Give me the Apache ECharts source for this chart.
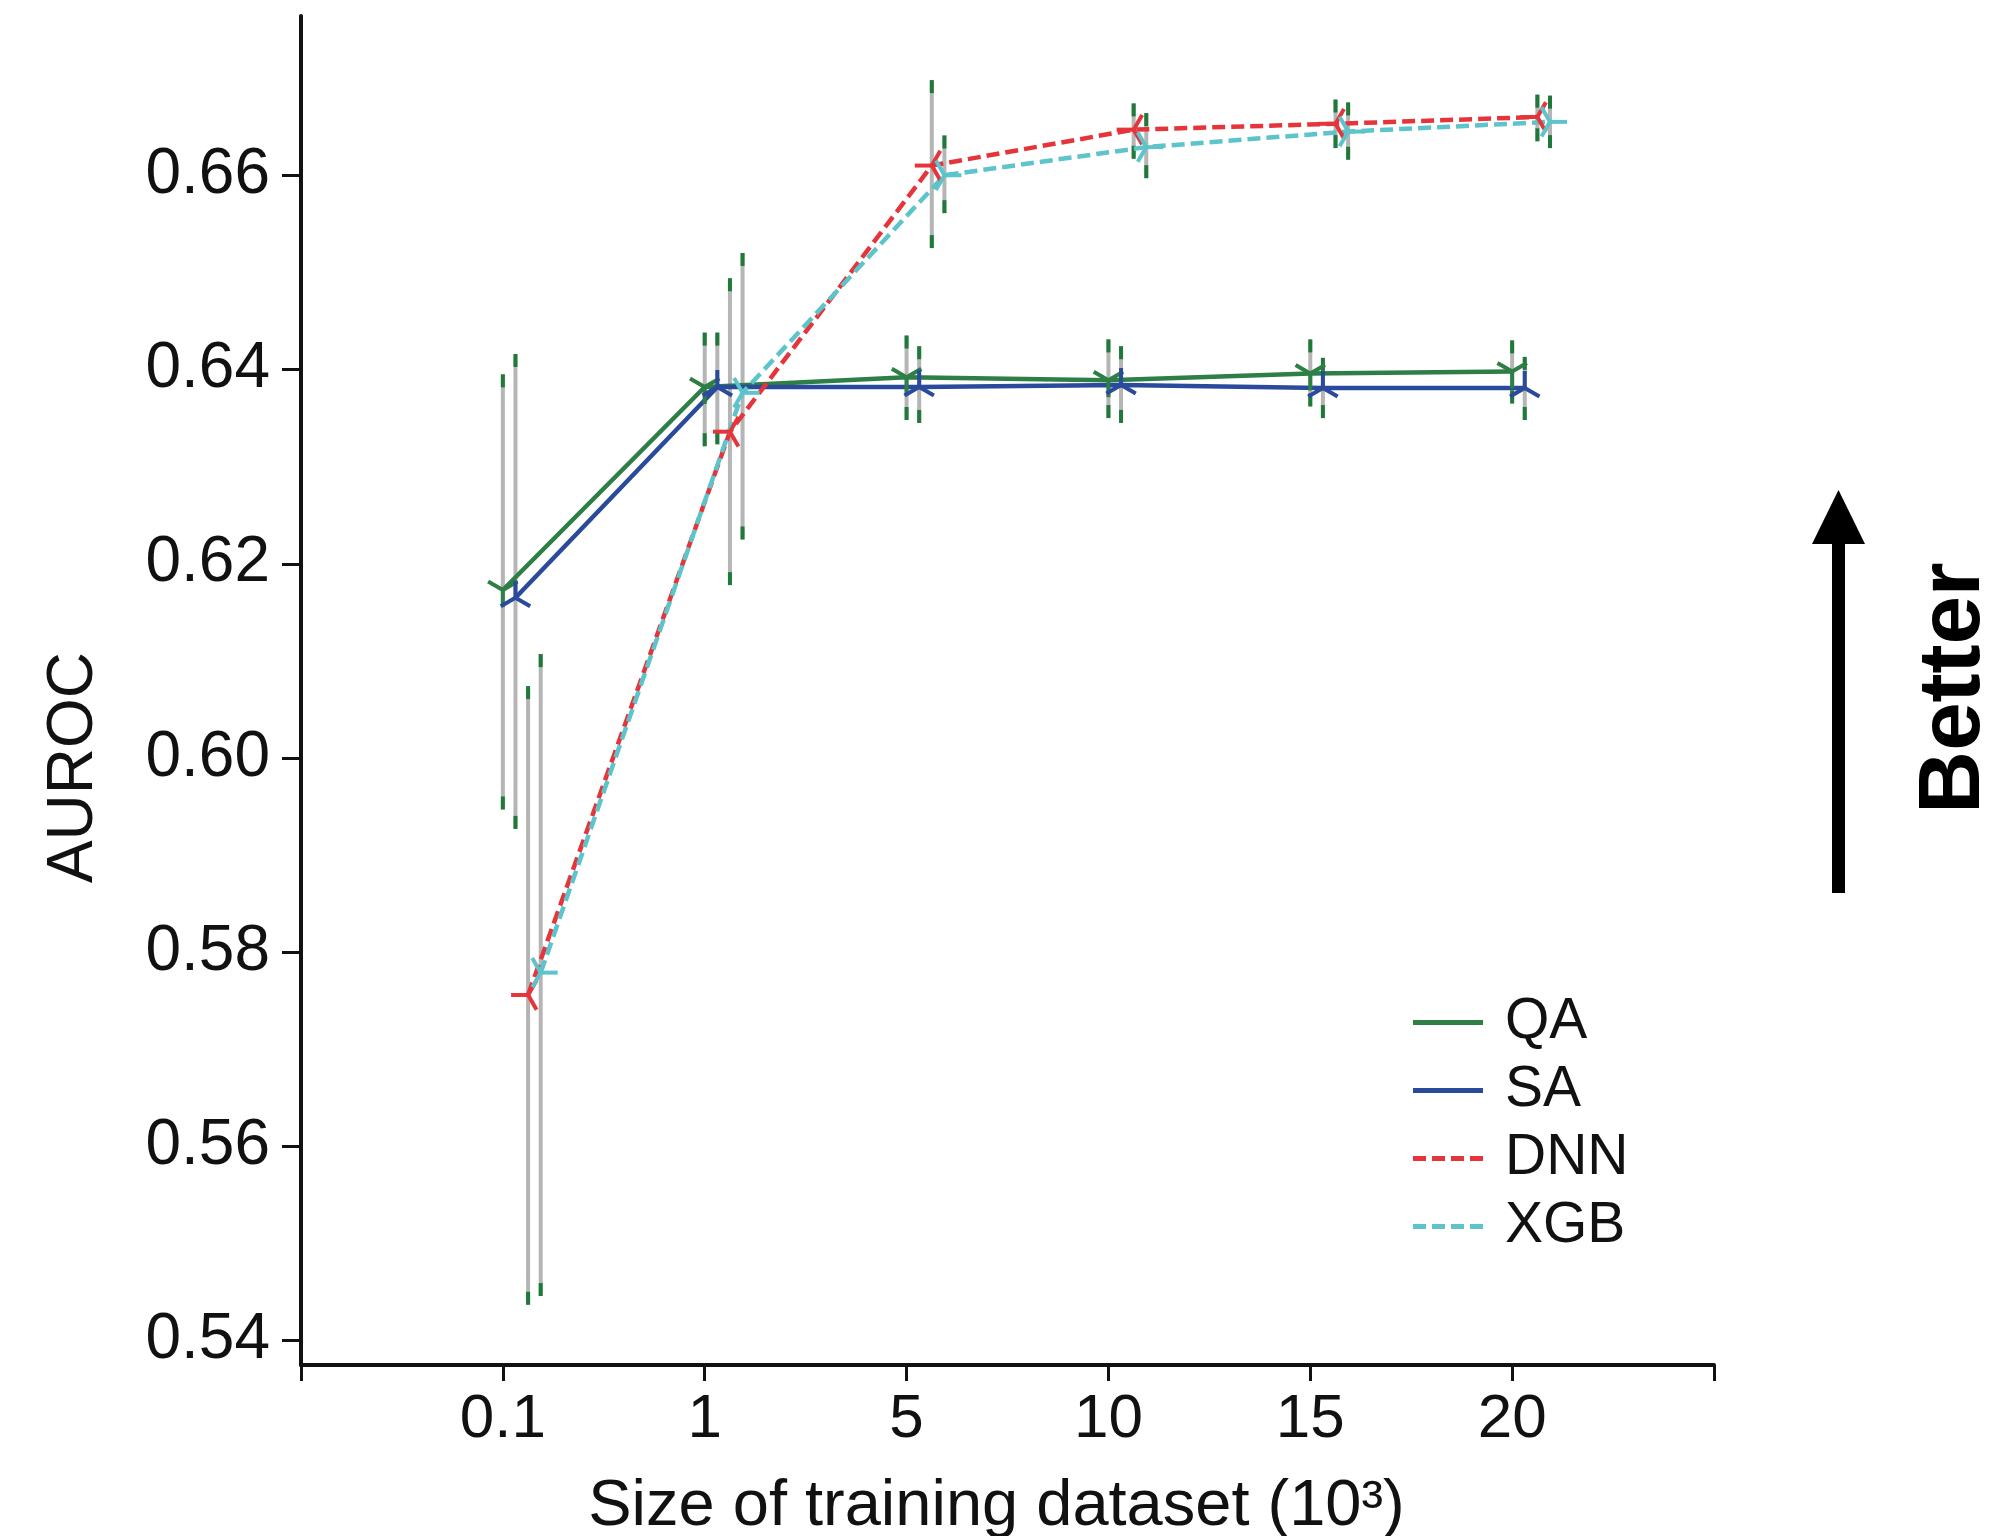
<!DOCTYPE html>
<html>
<head>
<meta charset="utf-8">
<script src="https://cdn.jsdelivr.net/npm/echarts@6/dist/echarts.min.js"></script>
<style>
  html, body { margin: 0; padding: 0; background: #ffffff; }
  #chart { width: 1999px; height: 1536px; }
</style>
</head>
<body>
<div id="chart"></div>
<script>
// ---- Data ----
const categories = ['0.1', '1', '5', '10', '15', '20'];
const yTicks = [0.54, 0.56, 0.58, 0.60, 0.62, 0.64, 0.66];

const seriesNames = ['QA', 'SA', 'DNN', 'XGB'];

const QA      = [0.6173, 0.6382, 0.6392, 0.6389, 0.6396, 0.6398];
const QA_low  = [0.5947, 0.6321, 0.6348, 0.6350, 0.6362, 0.6365];
const QA_high = [0.6395, 0.6438, 0.6435, 0.6431, 0.6431, 0.6430];

const SA      = [0.6165, 0.6382, 0.6382, 0.6384, 0.6381, 0.6381];
const SA_low  = [0.5927, 0.6323, 0.6345, 0.6345, 0.6350, 0.6348];
const SA_high = [0.6416, 0.6438, 0.6424, 0.6424, 0.6412, 0.6413];

const DNN      = [0.5756, 0.6336, 0.6610, 0.6647, 0.6653, 0.6660];
const DNN_low  = [0.5437, 0.6178, 0.6525, 0.6617, 0.6628, 0.6635];
const DNN_high = [0.6074, 0.6494, 0.6698, 0.6674, 0.6678, 0.6683];

const XGB      = [0.5779, 0.6376, 0.6600, 0.6629, 0.6645, 0.6655];
const XGB_low  = [0.5446, 0.6225, 0.6561, 0.6597, 0.6616, 0.6628];
const XGB_high = [0.6107, 0.6520, 0.6641, 0.6664, 0.6675, 0.6682];

// ---- Styling / layout ----
const FONT = "'Liberation Sans', Arial, Helvetica, sans-serif";
const SOLID_ICON = 'path://M0,0h70v5h-70z';
const DASH_ICON = 'path://M0,0h13v5h-13z M19,0h13v5h-13z M38,0h13v5h-13z M57,0h13v5h-13z';
const styles = {
  QA:  { color: '#2e7f45', dash: 'solid',  icon: SOLID_ICON, offset: 0,      arms: [270, 30, 150] },  // tri_down
  SA:  { color: '#2a4b9b', dash: 'solid',  icon: SOLID_ICON, offset: 0.0625, arms: [90, 210, 330] },  // tri_up
  DNN: { color: '#e5353a', dash: [13, 6],  icon: DASH_ICON,  offset: 0.125,  arms: [180, 60, 300] },  // tri_left
  XGB: { color: '#5cc4ca', dash: [13, 6],  icon: DASH_ICON,  offset: 0.1875, arms: [0, 120, 240] }    // tri_right
};
const values = { QA, SA, DNN, XGB };
const lows = { QA: QA_low, SA: SA_low, DNN: DNN_low, XGB: XGB_low };
const highs = { QA: QA_high, SA: SA_high, DNN: DNN_high, XGB: XGB_high };

const BAR_GREY = '#b5b5b5';
const CAP_GREEN = '#1f7a3a';

const series = [];
seriesNames.forEach(name => {
  const st = styles[name];
  const xs = categories.map((c, i) => i + 1 + st.offset);
  // error bars
  series.push({
    name: name + ' range',
    type: 'custom',
    z: 1,
    silent: true,
    encode: { x: 0, y: [1, 2] },
    data: xs.map((x, i) => [x, lows[name][i], highs[name][i]]),
    renderItem: (params, api) => {
      const x = api.value(0);
      const pLo = api.coord([x, api.value(1)]);
      const pHi = api.coord([x, api.value(2)]);
      const cap = 13;
      return {
        type: 'group',
        children: [
          { type: 'line', shape: { x1: pLo[0], y1: pLo[1], x2: pHi[0], y2: pHi[1] },
            style: { stroke: BAR_GREY, lineWidth: 4 } },
          { type: 'line', shape: { x1: pHi[0], y1: pHi[1], x2: pHi[0], y2: pHi[1] + cap },
            style: { stroke: CAP_GREEN, lineWidth: 4 } },
          { type: 'line', shape: { x1: pLo[0], y1: pLo[1] - cap, x2: pLo[0], y2: pLo[1] },
            style: { stroke: CAP_GREEN, lineWidth: 4 } }
        ]
      };
    }
  });
  // line
  series.push({
    name: name,
    type: 'line',
    z: 2,
    symbol: 'none',
    itemStyle: { color: st.color },
    lineStyle: { color: st.color, width: 4.5, type: st.dash },
    data: xs.map((x, i) => [x, values[name][i]])
  });
  // tri markers
  series.push({
    name: name + ' marker',
    type: 'custom',
    z: 3,
    silent: true,
    encode: { x: 0, y: 1 },
    data: xs.map((x, i) => [x, values[name][i]]),
    renderItem: (params, api) => {
      const p = api.coord([api.value(0), api.value(1)]);
      const r = 17;
      return {
        type: 'group',
        children: st.arms.map(a => {
          const rad = a * Math.PI / 180;
          return {
            type: 'line',
            shape: { x1: p[0], y1: p[1], x2: p[0] + r * Math.cos(rad), y2: p[1] - r * Math.sin(rad) },
            style: { stroke: st.color, lineWidth: 4 }
          };
        })
      };
    }
  });
});

const chart = echarts.init(document.getElementById('chart'), null, { renderer: 'canvas' });
chart.setOption({
  animation: false,
  backgroundColor: '#ffffff',
  textStyle: { fontFamily: FONT },
  grid: { left: 301, right: 285, top: 16, bottom: 171, containLabel: false, outerBoundsMode: 'none' },
  legend: {
    data: seriesNames.map(n => ({ name: n, icon: styles[n].icon })),
    orient: 'vertical',
    left: 1408,
    top: 989,
    itemWidth: 70,
    itemHeight: 5,
    itemGap: 11,
    selectedMode: false,
    textStyle: { fontFamily: FONT, fontSize: 57, color: '#111', lineHeight: 53, padding: [0, 0, 0, 17] }
  },
  xAxis: {
    type: 'value',
    min: 0,
    max: 7,
    interval: 1,
    name: 'Size of training dataset (10³)',
    nameLocation: 'middle',
    nameGap: 110,
    nameTextStyle: { fontFamily: FONT, fontSize: 65, color: '#111', padding: [0, 22, 0, 0] },
    axisLine: { show: true, onZero: false, lineStyle: { color: '#111', width: 4 } },
    axisTick: { show: true, length: 16, lineStyle: { color: '#111', width: 3 } },
    axisLabel: {
      fontFamily: FONT, fontSize: 62, color: '#111', margin: 24,
      formatter: v => categories[Math.round(v) - 1] || ''
    },
    splitLine: { show: false }
  },
  yAxis: {
    type: 'value',
    min: 0.5375,
    max: 0.6764,
    name: 'AUROC',
    nameLocation: 'middle',
    nameGap: 195,
    nameTextStyle: { fontFamily: FONT, fontSize: 64, color: '#111', padding: [0, 154, 0, 0] },
    axisLine: { show: true, onZero: false, lineStyle: { color: '#111', width: 4 } },
    axisTick: { show: true, length: 19, customValues: yTicks, lineStyle: { color: '#111', width: 3 } },
    axisLabel: {
      fontFamily: FONT, fontSize: 64, color: '#111', margin: 31,
      customValues: yTicks,
      formatter: v => Number(v).toFixed(2)
    },
    splitLine: { show: false }
  },
  graphic: [
    { type: 'rect', shape: { x: 1832, y: 540, width: 13, height: 353 }, style: { fill: '#000' } },
    { type: 'polygon', shape: { points: [[1838.5, 490], [1812, 544], [1865, 544]] }, style: { fill: '#000' } },
    { type: 'text', x: 1955, y: 688, rotation: Math.PI / 2,
      style: { text: 'Better', fontFamily: FONT, fontSize: 87, fontWeight: 'bold', fill: '#000',
               align: 'center', verticalAlign: 'middle' } }
  ],
  series: series
});
</script>
</body>
</html>
